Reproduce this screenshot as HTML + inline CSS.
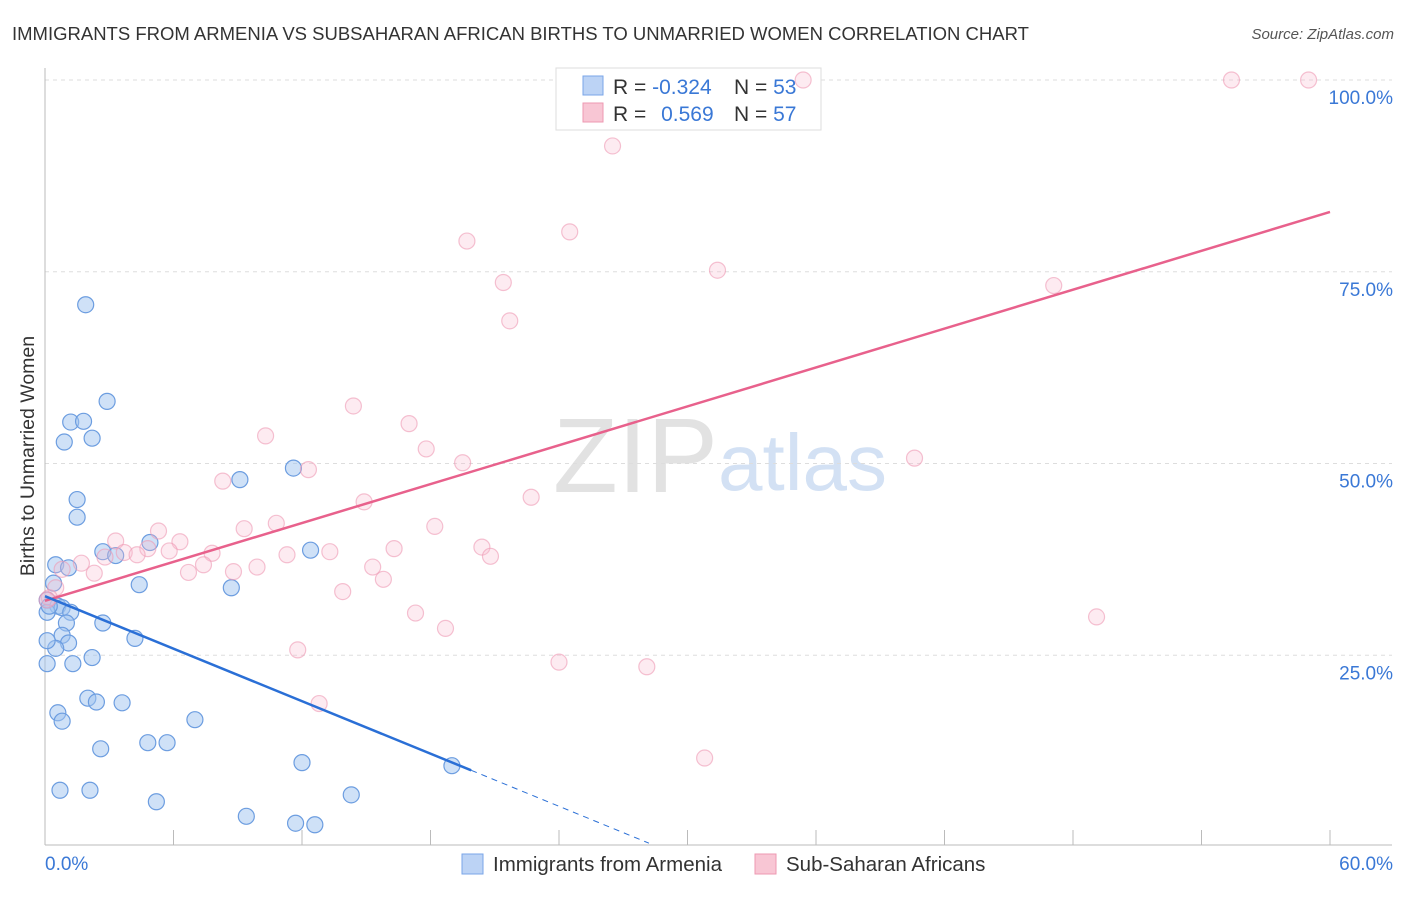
<!DOCTYPE html>
<html><head><meta charset="utf-8"><style>
body{margin:0;background:#fff;font-family:"Liberation Sans",sans-serif}
svg text{font-family:"Liberation Sans",sans-serif}
</style></head><body>
<svg id="c" width="1406" height="892">
<text x="12" y="40" font-size="18.5" fill="#333">IMMIGRANTS FROM ARMENIA VS SUBSAHARAN AFRICAN BIRTHS TO UNMARRIED WOMEN CORRELATION CHART</text>
<text x="1394" y="39" font-size="15" fill="#555" font-style="italic" text-anchor="end">Source: ZipAtlas.com</text>
<text x="34" y="456" font-size="19.5" fill="#333" text-anchor="middle" transform="rotate(-90 34 456)">Births to Unmarried Women</text>
<g><text x="553" y="492" font-size="106" font-family="Liberation Serif" fill="#e2e2e2">ZIP</text><text x="718" y="490" font-size="80" fill="#d3e1f4">atlas</text></g>
<g id="grid"></g>
<g>
<rect x="556" y="68" width="265" height="62" fill="#fff" stroke="#ddd"/>
<rect x="583" y="76" width="20" height="19" fill="#bcd3f5" stroke="#7aa6e8"/>
<text x="613" y="94" font-size="21" fill="#333">R = <tspan fill="#3a78d6">-0.324</tspan></text>
<text x="734" y="94" font-size="21" fill="#333">N = <tspan fill="#3a78d6">53</tspan></text>
<rect x="583" y="103" width="20" height="19" fill="#f8c6d4" stroke="#ee98b2"/>
<text x="613" y="121" font-size="21" fill="#333">R = <tspan fill="#3a78d6" dx="9">0.569</tspan></text>
<text x="734" y="121" font-size="21" fill="#333">N = <tspan fill="#3a78d6">57</tspan></text>
</g>
<g id="marks"></g>
<g>
<rect x="462" y="854" width="21" height="20" fill="#bcd3f5" stroke="#7aa6e8"/>
<text x="493" y="871" font-size="20.5" fill="#333">Immigrants from Armenia</text>
<rect x="755" y="854" width="21" height="20" fill="#f8c6d4" stroke="#ee98b2"/>
<text x="786" y="871" font-size="20.5" fill="#333">Sub-Saharan Africans</text>
</g>
</svg>
<script>
const yTicks=[25,50,75,100];
const xTickLabels=["0.0%","60.0%"];
const blueX=[1.9,2.9,1.2,1.8,0.9,2.2,1.5,1.5,9.1,11.6,12.4,4.9,2.7,3.3,0.5,1.1,4.4,8.7,0.4,0.1,0.6,0.8,1.2,0.1,1.0,2.7,4.2,0.8,1.1,0.5,0.1,2.2,0.1,1.3,2.0,2.4,3.6,0.6,0.8,7.0,2.6,4.8,5.7,12.0,19.0,0.7,2.1,5.2,9.4,14.3,11.7,12.6,0.2];
const blueY=[70.7,58.1,55.4,55.5,52.8,53.3,45.3,43.0,47.9,49.4,38.7,39.7,38.5,38.0,36.8,36.4,34.2,33.8,34.4,32.2,31.4,31.2,30.6,30.6,29.2,29.2,27.2,27.6,26.6,25.9,26.9,24.7,23.9,23.9,19.4,18.9,18.8,17.5,16.4,16.6,12.8,13.6,13.6,11.0,10.6,7.4,7.4,5.9,4.0,6.8,3.1,2.9,31.4];
const pinkX=[35.4,55.4,59.0,26.5,19.7,24.5,31.4,21.4,21.7,14.4,17.0,10.3,17.8,19.5,12.3,40.6,8.3,22.7,14.9,18.2,5.3,9.3,10.8,3.3,6.3,4.8,7.8,5.8,3.7,4.3,8.8,9.9,11.3,13.3,16.3,20.4,20.8,15.3,15.8,7.4,6.7,2.8,1.7,0.8,2.3,13.9,0.5,0.2,17.3,18.7,49.1,11.8,24.0,28.1,12.8,30.8,47.1,0.1];
const pinkY=[100,100,100,91.4,79.0,80.2,75.2,73.6,68.6,57.5,55.2,53.6,51.9,50.1,49.2,50.7,47.7,45.6,45.0,41.8,41.2,41.5,42.2,39.9,39.8,38.9,38.3,38.6,38.4,38.1,35.9,36.5,38.1,38.5,38.9,39.1,37.9,36.5,34.9,36.8,35.8,37.8,37.0,36.2,35.7,33.3,33.8,32.5,30.5,28.5,30.0,25.7,24.1,23.5,18.7,11.6,73.2,32.2];
const pinkTrend=[[0,32.1],[60,82.8]];
const blueTrend=[[0,32.7],[19.9,10.0]];
const blueDash=[[19.9,10.0],[28.2,0.5]];
const X=v=>45+v/60*1285, Y=v=>847-v*7.67;
const NS="http://www.w3.org/2000/svg";
function mk(p,t,a){const e=document.createElementNS(NS,t);for(const k in a)e.setAttribute(k,a[k]);p.appendChild(e);return e;}
const g=document.getElementById('grid'),m=document.getElementById('marks');
yTicks.forEach(v=>{
 const l=mk(g,'line',{x1:45,x2:1392,y1:Y(v),y2:Y(v),stroke:'#ddd','stroke-dasharray':'4,4'});
 
 
 const t=mk(g,'text',{x:1393,y:Y(v)+24,'font-size':19,fill:'#3a78d6','text-anchor':'end'});t.textContent=v.toFixed(1)+'%';
 
 
});
mk(g,'line',{x1:45,x2:45,y1:68,y2:845,stroke:'#bbb'});
mk(g,'line',{x1:45,x2:1392,y1:845,y2:845,stroke:'#bbb'});
for(let i=0;i<=10;i++){const tk=mk(g,'line',{x1:X(i*6),x2:X(i*6),y1:830,y2:845,stroke:'#bbb'});
 
 }
[[0,'start',45],[60,'end',1393]].forEach((d,i)=>{const t=mk(g,'text',{x:d[2],y:870,'font-size':19,fill:'#3a78d6','text-anchor':d[1]});t.textContent=xTickLabels[i];
 
 });
blueX.forEach((x,i)=>{const c=mk(m,'circle',{cx:X(x),cy:Y(blueY[i]),r:8,fill:'rgba(160,195,240,0.5)',stroke:'#6c9de0','stroke-width':1.2});
 
 });
pinkX.forEach((x,i)=>{const c=mk(m,'circle',{cx:X(x),cy:Y(pinkY[i]),r:8,fill:'rgba(248,190,208,0.3)',stroke:'rgba(238,154,180,0.6)','stroke-width':1.2});
 
 });
const pl=mk(m,'line',{x1:X(pinkTrend[0][0]),y1:Y(pinkTrend[0][1]),x2:X(pinkTrend[1][0]),y2:Y(pinkTrend[1][1]),stroke:'#e8618c','stroke-width':2.5});


const bl=mk(m,'line',{x1:X(blueTrend[0][0]),y1:Y(blueTrend[0][1]),x2:X(blueTrend[1][0]),y2:Y(blueTrend[1][1]),stroke:'#2a6fd6','stroke-width':2.5});


const bd=mk(m,'line',{x1:X(blueDash[0][0]),y1:Y(blueDash[0][1]),x2:X(blueDash[1][0]),y2:Y(blueDash[1][1]),stroke:'#2a6fd6','stroke-width':1,'stroke-dasharray':'6,5'});


</script>
</body></html>
